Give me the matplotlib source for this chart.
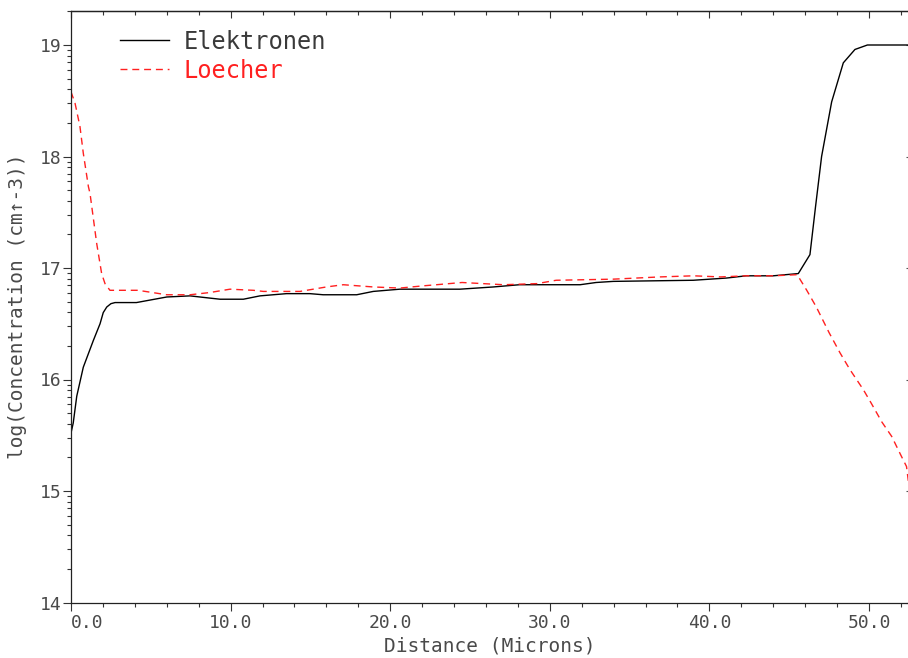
import numpy as np
import matplotlib
matplotlib.use("Agg")
import matplotlib.pyplot as plt
from matplotlib.ticker import FixedLocator, MultipleLocator, FuncFormatter

# ---- data ----
x_elec = [0.0, 0.14, 0.36, 0.77, 1.4, 1.82, 2.02, 2.24, 2.5, 2.76, 4.1, 6.0, 7.46,
          8.7, 9.34, 10.8, 11.84, 13.5, 14.97, 15.8, 17.9, 18.94, 20.6, 22.7, 24.37,
          26.46, 28.1, 29.2, 31.9, 32.9, 33.98, 38.99, 40.04, 41.08, 42.3, 44.0, 45.57,
          46.3, 46.65, 47.03, 47.66, 48.39, 49.12, 49.9, 52.5]
y_elec = [15.52, 15.61, 15.85, 16.11, 16.35, 16.50, 16.60, 16.65, 16.68, 16.69, 16.69, 16.74, 16.75,
          16.73, 16.72, 16.72, 16.75, 16.77, 16.77, 16.76, 16.76, 16.79, 16.81, 16.81, 16.81,
          16.83, 16.85, 16.85, 16.85, 16.87, 16.88, 16.89, 16.90, 16.91, 16.93, 16.93, 16.95,
          17.12, 17.55, 18.0, 18.49, 18.84, 18.96, 19.0, 19.0]

x_hole = [0.0, 0.25, 0.56, 0.77, 1.09, 1.19, 1.61, 1.92, 2.13, 2.44, 4.2, 6.0, 7.46,
          8.7, 9.96, 11.42, 12.05, 14.35, 16.0, 17.06, 18.94, 20.6, 22.07, 22.9, 24.5,
          27.1, 29.2, 30.4, 33.98, 36.9, 39.0, 40.7, 42.3, 44.0, 45.5, 46.1, 46.7,
          47.5, 48.18, 48.8, 49.64, 50.13, 50.8, 51.42, 52.0, 52.35, 52.5]
y_hole = [18.58, 18.48, 18.27, 18.03, 17.73, 17.67, 17.22, 16.95, 16.86, 16.80, 16.80, 16.76, 16.76,
          16.78, 16.81, 16.80, 16.79, 16.79, 16.83, 16.85, 16.83, 16.82, 16.84, 16.85, 16.87,
          16.85, 16.86, 16.89, 16.90, 16.92, 16.93, 16.92, 16.93, 16.93, 16.94, 16.80, 16.65,
          16.42, 16.24, 16.09, 15.91, 15.79, 15.62, 15.49, 15.32, 15.22, 15.05]

series_labels = ["Elektronen", "Loecher"]
x_label = "Distance (Microns)"
y_label = "log(Concentration (cm\u2191-3))"
x_major = [0, 10, 20, 30, 40, 50]
y_major = [14, 15, 16, 17, 18, 19]

# ---- styling ----
FONT = ["DejaVu Sans Mono", "DejaVu Sans"]
TXT = "#4a4a4a"
plt.rcParams["font.family"] = FONT

fig = plt.figure(figsize=(9.08, 6.58), dpi=100)
W, H = 908, 658
ax_l, ax_r, ax_t, ax_b = 71, 909, 10.7, 602.5
ax = fig.add_axes([ax_l / W, (H - ax_b) / H, (ax_r - ax_l) / W, (ax_b - ax_t) / H])

ax.plot(x_elec, y_elec, color="black", lw=1.0, label=series_labels[0])
ax.plot(x_hole, y_hole, color="#ff2020", lw=1.0, ls=(0, (5, 3.5)), label=series_labels[1])

ax.set_xlim(0, (ax_r - ax_l) / 15.96)
ax.set_ylim(14, 14 + (ax_b - ax_t) / 111.5)

# x ticks
ax.xaxis.set_major_locator(FixedLocator(x_major))
ax.xaxis.set_minor_locator(MultipleLocator(2))
ax.xaxis.set_major_formatter(FuncFormatter(lambda v, p: f"{v:.1f}"))
# y ticks (log-style minor ticks on log10 axis)
ax.yaxis.set_major_locator(FixedLocator(y_major))
minors = [d + np.log10(k) for d in range(14, 20) for k in range(2, 10)]
ax.yaxis.set_minor_locator(FixedLocator(minors))
ax.yaxis.set_major_formatter(FuncFormatter(lambda v, p: f"{int(round(v))}"))

ax.tick_params(axis="both", which="major", length=5.6, width=0.8, color="#333333",
               direction="out", labelsize=13, labelcolor=TXT)
ax.tick_params(axis="both", which="minor", length=3.0, width=0.8, color="#333333",
               direction="out")
ax.tick_params(axis="x", which="major", pad=3)
ax.tick_params(axis="y", which="major", pad=1)
ax.tick_params(top=False, right=False)

for s in ["left", "bottom", "top"]:
    ax.spines[s].set_color("#222222")
    ax.spines[s].set_linewidth(0.9)
ax.spines["right"].set_visible(False)

# top ticks pointing inward
top = ax.secondary_xaxis("top")
top.xaxis.set_major_locator(FixedLocator(x_major))
top.xaxis.set_minor_locator(MultipleLocator(2))
top.tick_params(which="major", direction="in", length=4.8, width=0.8, color="#333333", labeltop=False)
top.tick_params(which="minor", direction="in", length=3.0, width=0.8, color="#333333")
top.spines["top"].set_color("#222222")
top.spines["top"].set_linewidth(0.9)

# right ticks (major only), small, inward
right = ax.secondary_yaxis("right")
right.yaxis.set_major_locator(FixedLocator(y_major))
right.yaxis.set_minor_locator(FixedLocator([]))
right.tick_params(which="major", direction="in", length=2.2, width=0.8, color="#555555", labelright=False)
right.spines["right"].set_visible(False)

ax.set_xlabel(x_label, fontsize=14, color=TXT)
ax.xaxis.set_label_coords(0.5, -0.058)
ax.set_ylabel(y_label, fontsize=14, color=TXT)
ax.yaxis.set_label_coords(-0.052, 0.5)

leg = ax.legend(loc="upper left", bbox_to_anchor=(0.058, 0.968), frameon=False,
                fontsize=17, handlelength=2.1, handletextpad=0.6, labelspacing=0.21,
                borderpad=0, borderaxespad=0)
for t, c in zip(leg.get_texts(), ["#3a3a3a", "#ff2020"]):
    t.set_color(c)

# first x tick label sits to the right of its tick
fig.canvas.draw()
for lab in ax.get_xticklabels():
    if lab.get_text() == "0.0":
        lab.set_horizontalalignment("left")
        lab.set_x(0)

fig.savefig("out.png", dpi=100)
